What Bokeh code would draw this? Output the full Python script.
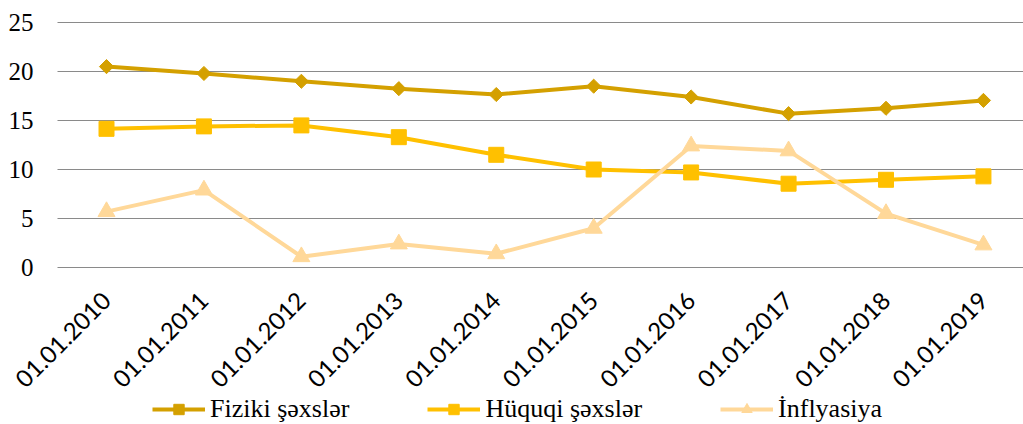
import math
from bokeh.plotting import figure
from bokeh.models import Range1d, ColumnDataSource, Legend, LegendItem
from bokeh.core.properties import value
from bokeh.embed import file_html
from bokeh.resources import INLINE

categories = ["01.01.2010", "01.01.2011", "01.01.2012", "01.01.2013", "01.01.2014",
              "01.01.2015", "01.01.2016", "01.01.2017", "01.01.2018", "01.01.2019"]
fiziki = [20.5, 19.8, 19.0, 18.25, 17.65, 18.5, 17.4, 15.7, 16.25, 17.05]
huquqi = [14.15, 14.4, 14.5, 13.3, 11.5, 10.0, 9.7, 8.55, 8.95, 9.3]
inflyasiya = [5.7, 7.9, 1.1, 2.4, 1.4, 4.0, 12.4, 11.9, 5.5, 2.3]
y_ticks = [0, 5, 10, 15, 20, 25]

names = ["Fiziki şəxslər", "Hüquqi şəxslər", "İnflyasiya"]
colors = ["#D4A000", "#FFC000", "#FFD899"]

xs = list(range(len(categories)))

# scale: 97.44 px per category, 9.8 px per y unit; plot area starts at x=57 px
X0, X1 = -1.088, 9.411
GRID_X0 = -0.503
p = figure(width=1023, height=424, output_backend="svg", toolbar_location=None,
           x_range=Range1d(X0, X1), y_range=Range1d(-16.02, 27.245),
           min_border_left=0, min_border_top=0, min_border_right=0,
           min_border_bottom=0)
p.outline_line_color = None
p.background_fill_color = "white"
p.border_fill_color = "white"
p.xaxis.visible = False
p.yaxis.visible = False
p.xgrid.grid_line_color = None
p.ygrid.grid_line_color = None

# horizontal grid lines at the value-axis ticks
p.segment(x0=[GRID_X0] * len(y_ticks), x1=[X1] * len(y_ticks), y0=y_ticks, y1=y_ticks,
          line_color="#8a8a8a", line_width=1.2)

# value-axis tick labels
ylab = ColumnDataSource(dict(x=[-0.749] * len(y_ticks), y=y_ticks,
                             text=[str(t) for t in y_ticks]))
p.text(x="x", y="y", text="text", source=ylab, text_align="right",
       text_baseline="middle", text_font=value("Liberation Serif"),
       text_font_size="25px", text_color="black")

# category labels (rotated), just under the zero line
xlab = ColumnDataSource(dict(x=xs, y=[-2.95] * len(xs), text=categories))
p.text(x="x", y="y", text="text", source=xlab, angle=math.pi / 4,
       text_align="right", text_baseline="middle",
       text_font=value("Lato"), text_font_size="24px", text_color="black")

items = []
series = [fiziki, huquqi, inflyasiya]
for i, (vals, name, col) in enumerate(zip(series, names, colors)):
    ln = p.line(xs, vals, line_color=col, line_width=4)
    if i == 0:
        mk = p.scatter(xs, vals, marker="square", angle=math.pi / 4, size=10,
                       fill_color=col, line_color=col)
    elif i == 1:
        mk = p.scatter(xs, vals, marker="square", size=15, fill_color=col, line_color=col)
    else:
        mk = p.scatter(xs, vals, marker="triangle", size=17, fill_color=col, line_color=col)
    items.append(LegendItem(label=name, renderers=[ln, mk]))

legend = Legend(items=items, orientation="horizontal", location=(152, 0),
                label_text_font="Liberation Serif", label_text_font_size="26px",
                label_text_color="black", glyph_width=53, glyph_height=26,
                label_standoff=5, spacing=78, padding=0, margin=0,
                border_line_color=None, background_fill_alpha=0)
p.add_layout(legend, "center")

open("out.html", "w").write(file_html(p, INLINE))
